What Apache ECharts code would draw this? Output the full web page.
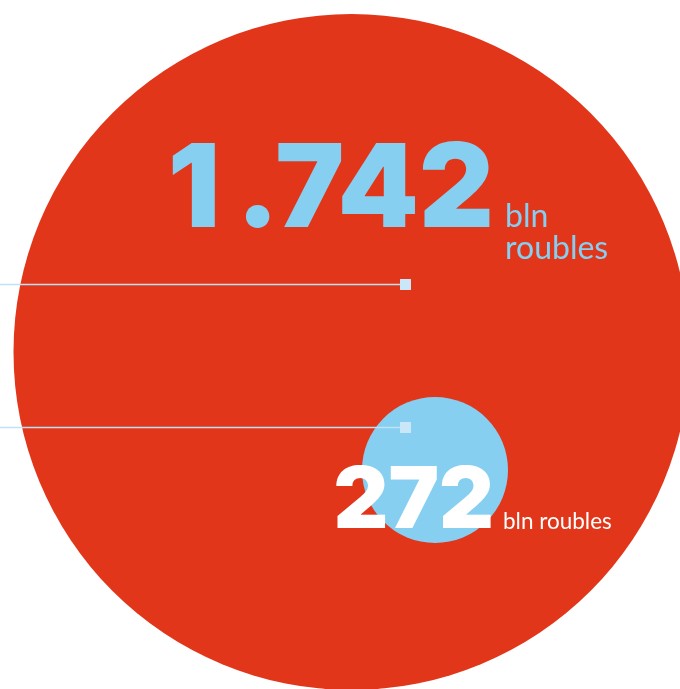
<!DOCTYPE html>
<html>
<head>
<meta charset="utf-8">
<script src="https://cdn.jsdelivr.net/npm/echarts@6/dist/echarts.min.js"></script>
<style>
  html, body { margin: 0; padding: 0; background: #fff; }
  #chart { width: 680px; height: 689px; }
</style>
</head>
<body>
<div id="chart"></div>
<script>
  // data
  var names = ['total', 'part'];
  var values = [1742, 272];
  var valueTexts = ['1\u2009.742', '272'];
  var unitTexts = ['bln\nroubles', 'bln roubles'];

  // layout (pixel space of the 680x689 canvas)
  var centers = [[351.5, 352], [435, 470]];
  var sizes = [676, 146];
  var lineY = [284.5, 427.5];
  var lineEndX = 405.5;
  var numAnchor = [[494, 250], [494, 545]];
  var unitAnchor = [[505, 201], [503, 533]];

  var RED = '#e2361a';
  var BLUE = '#86cff0';
  var PALE = '#c9e7f8';

  var myChart = echarts.init(document.getElementById('chart'));

  var bubbleData = values.map(function (v, i) {
    return {
      name: names[i],
      value: [centers[i][0], centers[i][1], v],
      symbolSize: sizes[i],
      itemStyle: { color: i === 0 ? RED : BLUE }
    };
  });

  var lineSeries = lineY.map(function (y, i) {
    return {
      type: 'line',
      z: 3,
      silent: true,
      data: [
        { value: [0, y], symbol: 'none' },
        { value: [lineEndX, y], symbol: 'rect', symbolSize: 11 }
      ],
      lineStyle: { color: '#bfe3f6', width: 1.5 },
      itemStyle: { color: PALE },
      showSymbol: true
    };
  });

  var option = {
    animation: false,
    grid: { left: 0, right: 0, top: 0, bottom: 0 },
    xAxis: { type: 'value', min: 0, max: 680, show: false },
    yAxis: { type: 'value', min: 0, max: 689, inverse: true, show: false },
    series: [
      {
        type: 'scatter',
        z: 1,
        silent: true,
        data: bubbleData,
        itemStyle: { opacity: 1 }
      }
    ].concat(lineSeries).concat([
      {
        // big numbers
        type: 'scatter',
        z: 4,
        silent: true,
        symbolSize: 0,
        itemStyle: { opacity: 1 },
        data: valueTexts.map(function (t, i) { return { value: numAnchor[i], name: t }; }),
        label: {
          show: true,
          position: 'inside',
          align: 'right',
          verticalAlign: 'bottom',
          formatter: '{b}',
          fontFamily: 'Inter',
          fontWeight: 900
        }
      },
      {
        // unit texts
        type: 'scatter',
        z: 4,
        silent: true,
        symbolSize: 0,
        itemStyle: { opacity: 1 },
        data: unitTexts.map(function (t, i) { return { value: unitAnchor[i], name: t }; }),
        label: {
          show: true,
          position: 'inside',
          align: 'left',
          formatter: '{b}',
          fontFamily: 'Lato',
          fontWeight: 'normal'
        }
      }
    ])
  };

  // per-item text styles
  option.series[3].data[0].label = { fontSize: 116, lineHeight: 116, color: BLUE };
  option.series[3].data[1].label = { fontSize: 85, lineHeight: 85, color: '#fff' };
  option.series[4].data[0].label = { fontSize: 32, lineHeight: 32, color: BLUE, verticalAlign: 'top' };
  option.series[4].data[1].label = { fontSize: 22.5, lineHeight: 23, color: '#fff', verticalAlign: 'bottom' };

  myChart.setOption(option);
</script>
</body>
</html>
